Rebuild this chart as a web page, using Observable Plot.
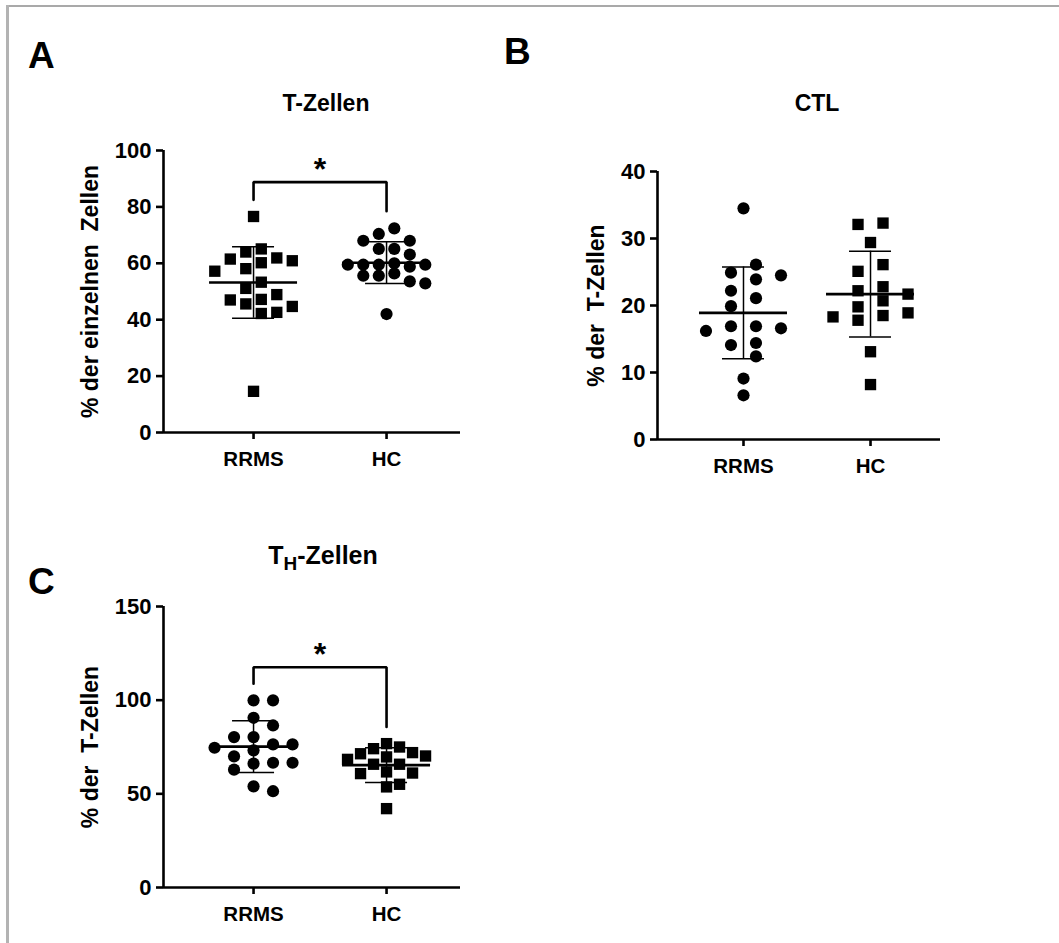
<!DOCTYPE html>
<html>
<head>
<meta charset="utf-8">
<script src="https://cdn.jsdelivr.net/npm/d3@7"></script>
<script src="https://cdn.jsdelivr.net/npm/@observablehq/plot@0.6"></script>
<style>
  body { margin: 0; background: #fff; }
  #page { position: relative; width: 1059px; height: 943px; overflow: hidden;
          font-family: "Liberation Sans", Arial, Helvetica, sans-serif; font-weight: bold; color: #000; }
  .frameTop { position: absolute; left: 6px; top: 5px; width: 1053px; height: 2px; background: #a9a9a9; }
  .frameLeft { position: absolute; left: 6px; top: 5px; width: 3px; height: 938px; background: #b3b3b3; }
  .txt { position: absolute; line-height: 1; white-space: pre; }
  .letter { font-size: 37px; }
  .title { font-size: 23px; transform: translateX(-50%); }
  .titleC { font-size: 25px; }
  .titleC sub { font-size: 19px; vertical-align: -6px; line-height: 0; }
  .panel { position: absolute; }
</style>
</head>
<body>
<div id="page">
  <div class="frameTop"></div>
  <div class="frameLeft"></div>
  <div class="txt letter" style="left:28px;top:37px">A</div>
  <div class="txt letter" style="left:504px;top:33px">B</div>
  <div class="txt letter" style="left:28px;top:563px">C</div>
  <div class="txt title" style="left:326px;top:92px">T-Zellen</div>
  <div class="txt title" style="left:817px;top:92px">CTL</div>
  <div class="txt title titleC" style="left:323px;top:543px">T<sub>H</sub>-Zellen</div>
  <div class="panel" id="pA" style="left:0px;top:130px"></div>
  <div class="panel" id="pB" style="left:520px;top:150px"></div>
  <div class="panel" id="pC" style="left:0px;top:580px"></div>
</div>
<script>
// ---------- data ----------
const groups = ["RRMS", "HC"];

// Panel A: T-Zellen (% der einzelnen Zellen)
const tZellenRRMS = [76.6, 65.1, 64.0, 61.9, 61.5, 60.9, 60.2, 58.1, 57.2, 53.3, 51.1, 48.9, 47.2, 47.0, 45.6, 44.7, 42.6, 42.2, 14.6];
const tZellenHC   = [72.4, 70.4, 68.0, 68.0, 65.1, 65.1, 63.1, 60.0, 59.5, 59.5, 59.5, 59.5, 58.8, 56.4, 55.6, 55.6, 53.6, 52.9, 42.0];
const tZellenMean = [53.2, 60.2];
const tZellenSD   = [12.7, 7.4];
const tZellenBracket = [88.8, 82.5, 78.5]; // top, left end, right end
const tZellenStar = 95.4;

// Panel B: CTL (% der T-Zellen)
const ctlRRMS = [34.5, 26.1, 24.9, 24.5, 23.9, 22.2, 21.1, 19.9, 16.9, 16.9, 16.6, 16.2, 14.4, 14.1, 12.4, 9.1, 6.6];
const ctlHC   = [32.3, 32.1, 29.4, 26.1, 25.1, 22.8, 22.2, 21.7, 20.7, 19.8, 18.9, 18.5, 18.3, 17.8, 13.1, 8.2];
const ctlMean = [18.9, 21.7];
const ctlSD   = [6.85, 6.4];

// Panel C: TH-Zellen (% der T-Zellen)
const thRRMS = [99.9, 99.9, 90.6, 86.5, 80.3, 80.3, 76.4, 76.4, 74.6, 73.2, 70.0, 66.6, 66.6, 66.1, 62.9, 54.0, 51.4];
const thHC   = [76.8, 75.0, 74.1, 72.0, 71.4, 70.2, 69.7, 68.4, 65.8, 65.8, 61.7, 61.1, 60.8, 55.1, 53.7, 42.1];
const thMean = [75.2, 65.3];
const thSD   = [13.8, 9.25];
const thBracket = [117.6, 108.8, 85.7];
const thStar = 127.6;

// Tick values
const ticksA = [0, 20, 40, 60, 80, 100];
const ticksB = [0, 10, 20, 30, 40];
const ticksC = [0, 50, 100, 150];

// ---------- scatter-dot arrangement (computed, no stored positions) ----------
// s: column spacing (px), grid: "even" (±s/2, ±3s/2 ...) or "odd" (0, ±s, ...),
// Hh: vertical clearance (px); columns are kept within ±maxHalf px.
function swarm(values, pxPerUnit, s, grid, Hh, maxHalf) {
  const W = s - 0.5;
  const ys = values.map(v => v * pxPerUnit);
  const order = values.map((v, i) => i).sort((a, b) => values[b] - values[a]);
  const slots = [];
  if (grid === "odd") slots.push(0);
  for (let k = 0; k < 12; k++) {
    const o = grid === "even" ? (k + 0.5) * s : (k + 1) * s;
    if (o <= maxHalf) slots.push(o, -o);
  }
  const placed = [], out = [];
  for (const i of order) {
    const y = ys[i];
    const isolated = ys.every((yy, j) => j === i || Math.abs(yy - y) >= Hh);
    let best = null, bestScore = -Infinity;
    if (isolated) best = 0;
    else {
      for (const c of slots) {
        let score = Infinity;
        for (const p of placed) {
          const sc = Math.max(Math.abs(p.x - c) / W, Math.abs(p.y - y) / Hh);
          if (sc < score) score = sc;
        }
        if (score >= 1) { best = c; break; }
        if (score > bestScore + 1e-9) { bestScore = score; best = c; }
      }
    }
    placed.push({x: best, y}); out[i] = best;
  }
  return out;
}

function panel(cfg) {
  const plotW = cfg.width - cfg.marginLeft - cfg.marginRight;
  const plotH = cfg.height - cfg.marginTop - cfg.marginBottom;
  const stepPx = plotW / (cfg.xDomain[1] - cfg.xDomain[0]);
  const pxPerUnit = plotH / (cfg.yDomain[1] - cfg.yDomain[0]);
  const pts = [];
  cfg.series.forEach((vals, gi) => {
    const L = cfg.layout[gi];
    const off = swarm(vals, pxPerUnit, L.s, L.grid, L.Hh, 40);
    vals.forEach((v, j) => pts.push({g: gi, x: gi + off[j] / stepPx, y: v, sym: cfg.symbols[gi]}));
  });
  const stats = groups.map((g, i) => ({i, mean: cfg.mean[i], sd: cfg.sd[i]}));
  const meanHalf = 44 / stepPx, capHalf = 21 / stepPx;
  const marks = [
    Plot.ruleY([cfg.yDomain[0]], {strokeWidth: 2.6}),
    Plot.ruleX([cfg.xDomain[0]], {y1: cfg.yDomain[0], y2: cfg.yDomain[1], strokeWidth: 2.6}),
    Plot.axisY({ticks: cfg.ticks, tickSize: 7, tickPadding: 5, strokeWidth: 2.6, fontSize: 22, label: null}),
    Plot.text([cfg.label], {frameAnchor: "left", rotate: -90, dx: -cfg.labelOffset, lineAnchor: "top", textAnchor: "middle", fontSize: 23, fontWeight: "bold", text: d => d}),
    Plot.axisX({ticks: [0, 1], tickFormat: i => groups[i], tickSize: 7, tickPadding: 12, strokeWidth: 2.6, fontSize: 20.5, label: null}),
    Plot.dot(pts.filter(d => d.sym === "circle"), {x: "x", y: "y", r: 6.1, fill: "#000", symbol: "circle"}),
    Plot.dot(pts.filter(d => d.sym === "square"), {x: "x", y: "y", r: 6.4, fill: "#000", symbol: "square"}),
    Plot.ruleY(stats, {y: "mean", x1: d => d.i - meanHalf, x2: d => d.i + meanHalf, strokeWidth: 2.6}),
    Plot.ruleX(stats, {x: "i", y1: d => d.mean - d.sd, y2: d => d.mean + d.sd, strokeWidth: 1.5}),
    Plot.ruleY(stats, {y: d => d.mean + d.sd, x1: d => d.i - capHalf, x2: d => d.i + capHalf, strokeWidth: 1.5}),
    Plot.ruleY(stats, {y: d => d.mean - d.sd, x1: d => d.i - capHalf, x2: d => d.i + capHalf, strokeWidth: 1.5})
  ];
  if (cfg.bracket) {
    const [top, l, r] = cfg.bracket;
    const br = [{x: 0, y: l}, {x: 0, y: top}, {x: 1, y: top}, {x: 1, y: r}];
    marks.push(Plot.line(br, {x: "x", y: "y", strokeWidth: 2.6, strokeLinejoin: "miter"}));
    marks.push(Plot.text([{x: 0.5, y: cfg.star}], {x: "x", y: "y", text: () => "*", fontSize: 32, fontWeight: "bold", dy: 6}));
  }
  return Plot.plot({
    width: cfg.width, height: cfg.height,
    marginLeft: cfg.marginLeft, marginRight: cfg.marginRight,
    marginTop: cfg.marginTop, marginBottom: cfg.marginBottom,
    style: {fontFamily: '"Liberation Sans", Arial, sans-serif', fontSize: "20px", fontWeight: "bold", color: "#000", background: "transparent", overflow: "visible"},
    x: {type: "linear", domain: cfg.xDomain},
    y: {domain: cfg.yDomain},
    marks
  });
}

document.getElementById("pA").append(panel({
  width: 480, height: 350, marginLeft: 163, marginRight: 20, marginTop: 20, marginBottom: 48,
  xDomain: [-0.677, 1.556], yDomain: [0, 100], ticks: ticksA,
  label: "% der einzelnen\u00a0 Zellen", labelOffset: 82,
  series: [tZellenRRMS, tZellenHC], symbols: ["square", "circle"],
  layout: [{s: 15.5, grid: "even", Hh: 13.5}, {s: 15.5, grid: "even", Hh: 13.5}],
  mean: tZellenMean, sd: tZellenSD, bracket: tZellenBracket, star: tZellenStar
}));
document.getElementById("pB").append(panel({
  width: 440, height: 330, marginLeft: 137, marginRight: 20, marginTop: 21, marginBottom: 41,
  xDomain: [-0.677, 1.551], yDomain: [0, 40], ticks: ticksB,
  label: "% der\u00a0 T-Zellen", labelOffset: 70,
  series: [ctlRRMS, ctlHC], symbols: ["circle", "square"],
  layout: [{s: 25, grid: "even", Hh: 13}, {s: 25, grid: "even", Hh: 13}],
  mean: ctlMean, sd: ctlSD
}));
document.getElementById("pC").append(panel({
  width: 480, height: 363, marginLeft: 163, marginRight: 20, marginTop: 26, marginBottom: 56,
  xDomain: [-0.677, 1.556], yDomain: [0, 150], ticks: ticksC,
  label: "% der\u00a0 T-Zellen", labelOffset: 82,
  series: [thRRMS, thHC], symbols: ["circle", "square"],
  layout: [{s: 19.5, grid: "odd", Hh: 13}, {s: 13, grid: "odd", Hh: 13}],
  mean: thMean, sd: thSD, bracket: thBracket, star: thStar
}));
</script>
</body>
</html>
